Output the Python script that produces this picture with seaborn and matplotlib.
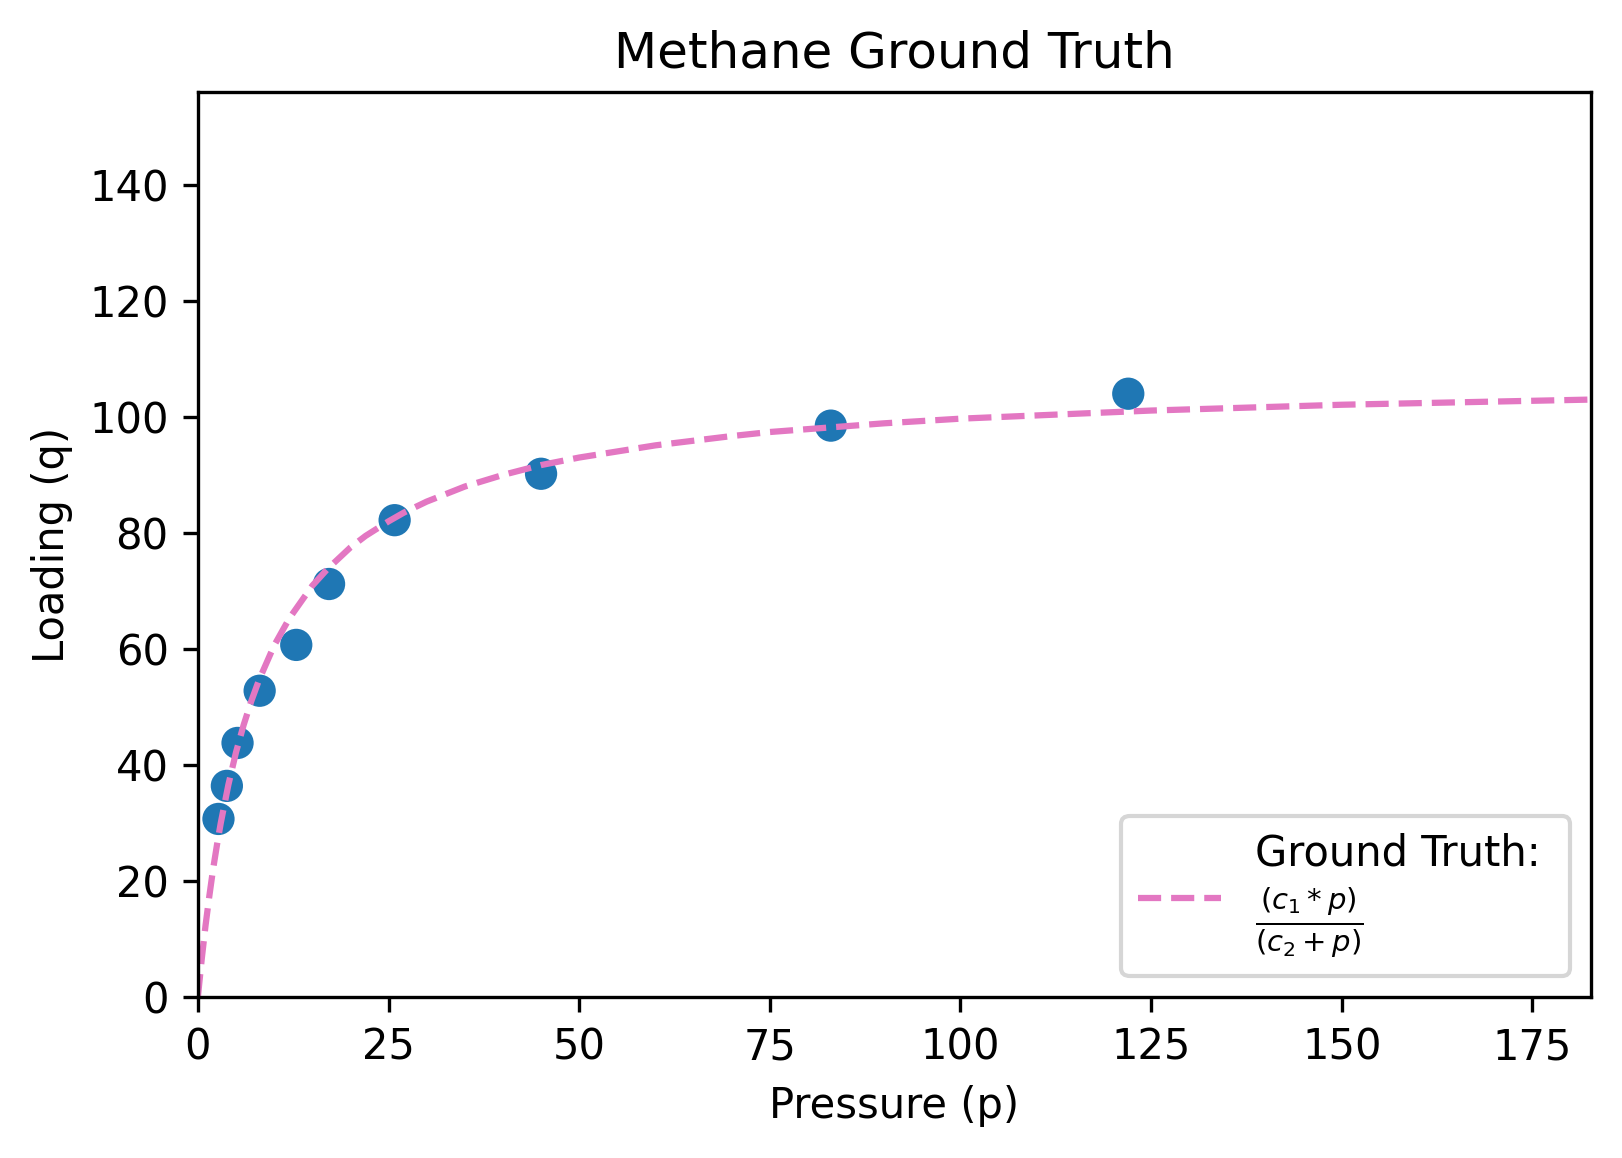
# Methane isotherm: measured loading points plus the ground truth curve

import matplotlib
matplotlib.use("Agg")
import matplotlib.pyplot as plt
import seaborn as sns
import pandas as pd


pressure = [2.7, 3.8, 5.2, 8.1, 12.9, 17.2, 25.8, 45.0, 83.0, 122.0]
loading = [30.7, 36.4, 43.8, 52.8, 60.7, 71.2, 82.2, 90.2, 98.5, 104.0]

# ground truth curve

curve_p = [0, 0.5, 1, 1.5, 2, 2.5, 3, 4, 5, 6, 7, 8, 10, 12, 15, 17, 20,
           22, 25, 27, 30, 35, 40, 45, 50, 60, 70, 75, 90, 100, 125, 150,
           183]
curve_q = [0, 6.5, 12.3, 17.4, 22.1, 26.2, 30.0, 36.6, 42.2, 46.9, 51.0,
           54.6, 60.6, 65.3, 70.9, 73.8, 77.5, 79.5, 82.0, 83.5, 85.4, 88.0,
           90.0, 91.7, 93.0, 95.1, 96.7, 97.4, 98.9, 99.7, 101.1, 102.1,
           103.0]

points = pd.DataFrame({"p": pressure, "q": loading})
curve = pd.DataFrame({"p": curve_p, "q": curve_q})

fig, ax = plt.subplots(figsize=(1622 / 300, 1158 / 300), dpi=300)
fig.subplots_adjust(left=0.122, right=0.981, top=0.9205, bottom=0.139)

sns.scatterplot(data=points, x="p", y="q", color="#1f77b4", s=60,
                edgecolor="none", ax=ax)
sns.lineplot(data=curve, x="p", y="q", color="#e377c2", linestyle="--",
             label="Ground Truth: \n" + r"$\frac{(c_1*p)}{(c_2+p)}$", ax=ax)

ax.set_xlim(0, 182.7)
ax.set_ylim(0, 156)
ax.set_xticks([0, 25, 50, 75, 100, 125, 150, 175])
ax.set_yticks([0, 20, 40, 60, 80, 100, 120, 140])
ax.set_xlabel("Pressure (p)")
ax.set_ylabel("Loading (q)")
ax.set_title("Methane Ground Truth")
ax.legend(loc="lower right")

plt.savefig("out.png", dpi=300)
